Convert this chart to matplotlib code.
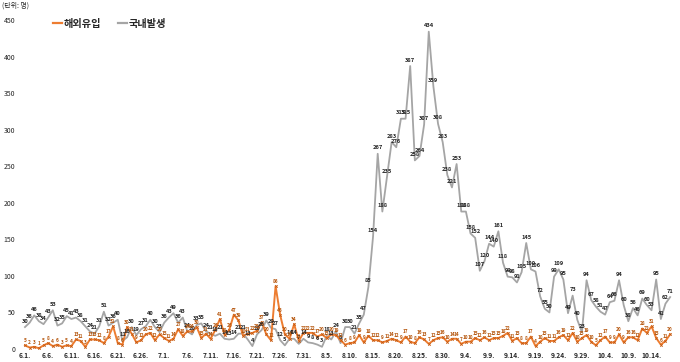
import matplotlib
matplotlib.use("Agg")
import matplotlib.pyplot as plt
import pandas as pd

plt.rcParams['font.family'] = ['Noto Sans CJK KR', 'DejaVu Sans']

# Categories: daily dates 6.1 ~ 10.18
dates = pd.date_range("2020-06-01", "2020-10-18", freq="D")
date_labels = [f"{d.month}.{d.day}." for d in dates]

# 국내발생 (domestic)
domestic_jun = [30, 36, 46, 38, 34, 43, 53, 32, 35, 45, 41, 43, 38, 31, 24, 21, 31, 51, 32, 36,
                40, 11, 16, 30, 19, 27, 31, 40, 30, 23]
domestic_jul = [36, 43, 49, 36, 43, 24, 20, 33, 35, 24, 21, 18, 21, 14, 13, 14, 21, 21, 13, 4,
                20, 26, 39, 29, 27, 12, 5, 14, 14, 7, 14]
domestic_aug = [9, 8, 6, 3, 18, 13, 24, 8, 30, 30, 21, 35, 47, 85, 154, 267, 188, 235, 283, 276,
                315, 315, 387, 258, 264, 307, 434, 359, 308, 283, 238]
domestic_sep = [221, 253, 188, 188, 158, 152, 107, 120, 144, 140, 161, 118, 99, 98, 91, 105, 145,
                109, 106, 72, 55, 50, 99, 109, 95, 49, 73, 40, 23, 94]
domestic_oct = [67, 58, 51, 47, 64, 66, 94, 60, 38, 56, 46, 69, 60, 53, 95, 41, 62, 71]

# 해외유입 (imported)
imported_jun = [5, 2, 3, 1, 5, 8, 4, 6, 3, 5, 4, 13, 11, 3, 13, 13, 12, 8, 17, 31,
                8, 6, 30, 21, 9, 12, 20, 22, 12, 20]
imported_jul = [15, 11, 14, 27, 18, 24, 24, 30, 15, 21, 14, 26, 41, 19, 26, 47, 39, 18, 21, 22,
                25, 37, 20, 12, 86, 46, 20, 14, 34, 11, 22]
imported_aug = [22, 22, 17, 20, 15, 20, 19, 12, 6, 8, 9, 19, 9, 18, 12, 12, 9, 11, 14, 12,
                9, 17, 10, 8, 16, 13, 7, 12, 15, 16, 10]
imported_sep = [14, 14, 7, 10, 10, 15, 12, 16, 12, 15, 15, 18, 22, 11, 15, 8, 8, 17, 4, 10,
                15, 11, 11, 16, 19, 12, 22, 10, 15, 19]
imported_oct = [10, 5, 12, 17, 9, 9, 20, 9, 16, 16, 12, 28, 22, 31, 15, 6, 11, 20]

domestic = domestic_jun + domestic_jul + domestic_aug + domestic_sep + domestic_oct
imported = imported_jun + imported_jul + imported_aug + imported_sep + imported_oct

tick_labels = ["6.1.", "6.6.", "6.11.", "6.16.", "6.21.", "6.26.", "7.1.", "7.6.", "7.11.",
               "7.16.", "7.21.", "7.26.", "7.31.", "8.5.", "8.10.", "8.15.", "8.20.", "8.25.",
               "8.30.", "9.4.", "9.9.", "9.14.", "9.19.", "9.24.", "9.29.", "10.4.", "10.9.",
               "10.14."]
y_ticks = [0, 50, 100, 150, 200, 250, 300, 350, 400, 450]

GRAY = "#A5A5A5"
ORANGE = "#ED7D31"

fig = plt.figure(figsize=(6.8, 3.62), dpi=100)
ax = fig.add_axes([18 / 680, 13 / 362, 660 / 680, 329 / 362])

x = list(range(len(dates)))
ax.plot(x, domestic, color=GRAY, lw=1.3, zorder=2)
ax.plot(x, imported, color=ORANGE, lw=1.4, zorder=3, marker="x", markersize=1.8,
        markeredgewidth=0.6, markeredgecolor="#C55A11")

for xi, v in zip(x, domestic):
    ax.annotate(str(v), (xi, v), xytext=(0, 2.5), textcoords="offset points",
                ha="center", va="bottom", fontsize=4.1, fontweight="bold",
                color="#262626", zorder=5)
for xi, v in zip(x, imported):
    ax.annotate(str(v), (xi, v), xytext=(0, 1.5), textcoords="offset points",
                ha="center", va="bottom", fontsize=3.4, fontweight="bold",
                color="#B45309", zorder=6)

ax.set_xlim(-1.5, 140.7)
ax.set_ylim(0, 450)
tick_pos = [date_labels.index(t) for t in tick_labels]
ax.set_xticks(tick_pos)
ax.set_xticklabels(tick_labels, fontsize=4.8, fontweight="bold", color="#262626")
ax.set_yticks(y_ticks)
ax.set_yticklabels([str(t) for t in y_ticks], fontsize=5, color="#262626")
ax.tick_params(axis="both", length=0, pad=2)
for s in ax.spines.values():
    s.set_visible(False)

handles = [plt.Line2D([0], [0], color=ORANGE, lw=1.6),
           plt.Line2D([0], [0], color=GRAY, lw=1.6)]
leg = fig.legend(handles, ["해외유입", "국내발생"], loc="center left",
                 bbox_to_anchor=(44 / 680, 1 - 24 / 362), ncol=2, frameon=False,
                 handlelength=0.9, handletextpad=0.1, columnspacing=1.7,
                 prop={"size": 7.3, "weight": "bold"})
for t in leg.get_texts():
    t.set_color("#262626")

fig.text(2 / 680, 1 - 6 / 362, "(단위: 명)", fontsize=5, va="center", ha="left",
         color="#262626")

fig.savefig("out.png", dpi=100, facecolor="white")
